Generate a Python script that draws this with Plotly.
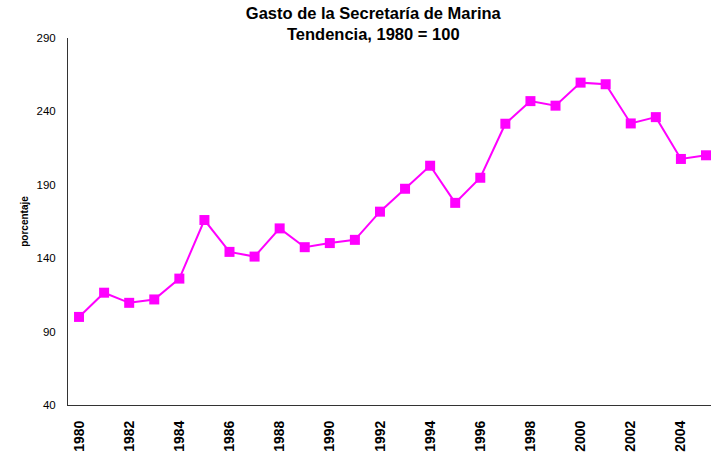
import plotly.graph_objects as go

years = list(range(1980, 2006))
values = [100, 116.5, 109.6, 111.9, 126.1, 166, 144.3, 141.1, 160.3, 147.5,
          150.3, 152.5, 171.7, 187.3, 203, 177.7, 194.8, 231.6, 247, 243.9,
          259.6, 258.5, 231.8, 236.1, 207.6, 210.1]
x_ticks = list(range(1980, 2006, 2))
y_ticks = [40, 90, 140, 190, 240, 290]

fig = go.Figure()
fig.add_trace(go.Scatter(
    x=years, y=values, mode="lines+markers",
    line=dict(color="#FF00FF", width=2),
    marker=dict(symbol="square", size=10, color="#FF00FF"),
    showlegend=False,
))

fig.update_layout(
    width=711, height=453,
    margin=dict(l=68, r=0, t=38, b=48, autoexpand=False),
    paper_bgcolor="white", plot_bgcolor="white",
    font=dict(family="Liberation Sans, Arial, sans-serif", color="black"),
    title=dict(
        text="<b>Gasto de la Secretaría de Marina</b><br><b>Tendencia, 1980 = 100</b>",
        x=0.525, xanchor="center", xref="container",
        y=1, yanchor="top", yref="container", pad=dict(t=19),
        font=dict(size=16.5, color="black"),
    ),
    xaxis=dict(
        range=[1979.56, 2005.2], automargin=False,
        tickmode="array", tickvals=x_ticks, ticktext=[f"<b>{t}</b>" for t in x_ticks],
        tickangle=-90, tickfont=dict(size=14),
        showline=True, linecolor="#333333", linewidth=1,
        showgrid=False, zeroline=False, ticks="",
        ticklabelstandoff=9,
    ),
    yaxis=dict(
        range=[40, 290], automargin=False,
        tickmode="array", tickvals=y_ticks,
        tickfont=dict(size=11.5),
        showline=True, linecolor="#333333", linewidth=1,
        showgrid=False, zeroline=False, ticks="",
        ticklabelstandoff=9,
        title=dict(text="<b>porcentaje</b>", font=dict(size=10), standoff=6),
    ),
)

fig.write_html("out.html", config={"displayModeBar": False},
               post_script="document.body.style.margin='0';document.body.style.overflow='hidden';")
